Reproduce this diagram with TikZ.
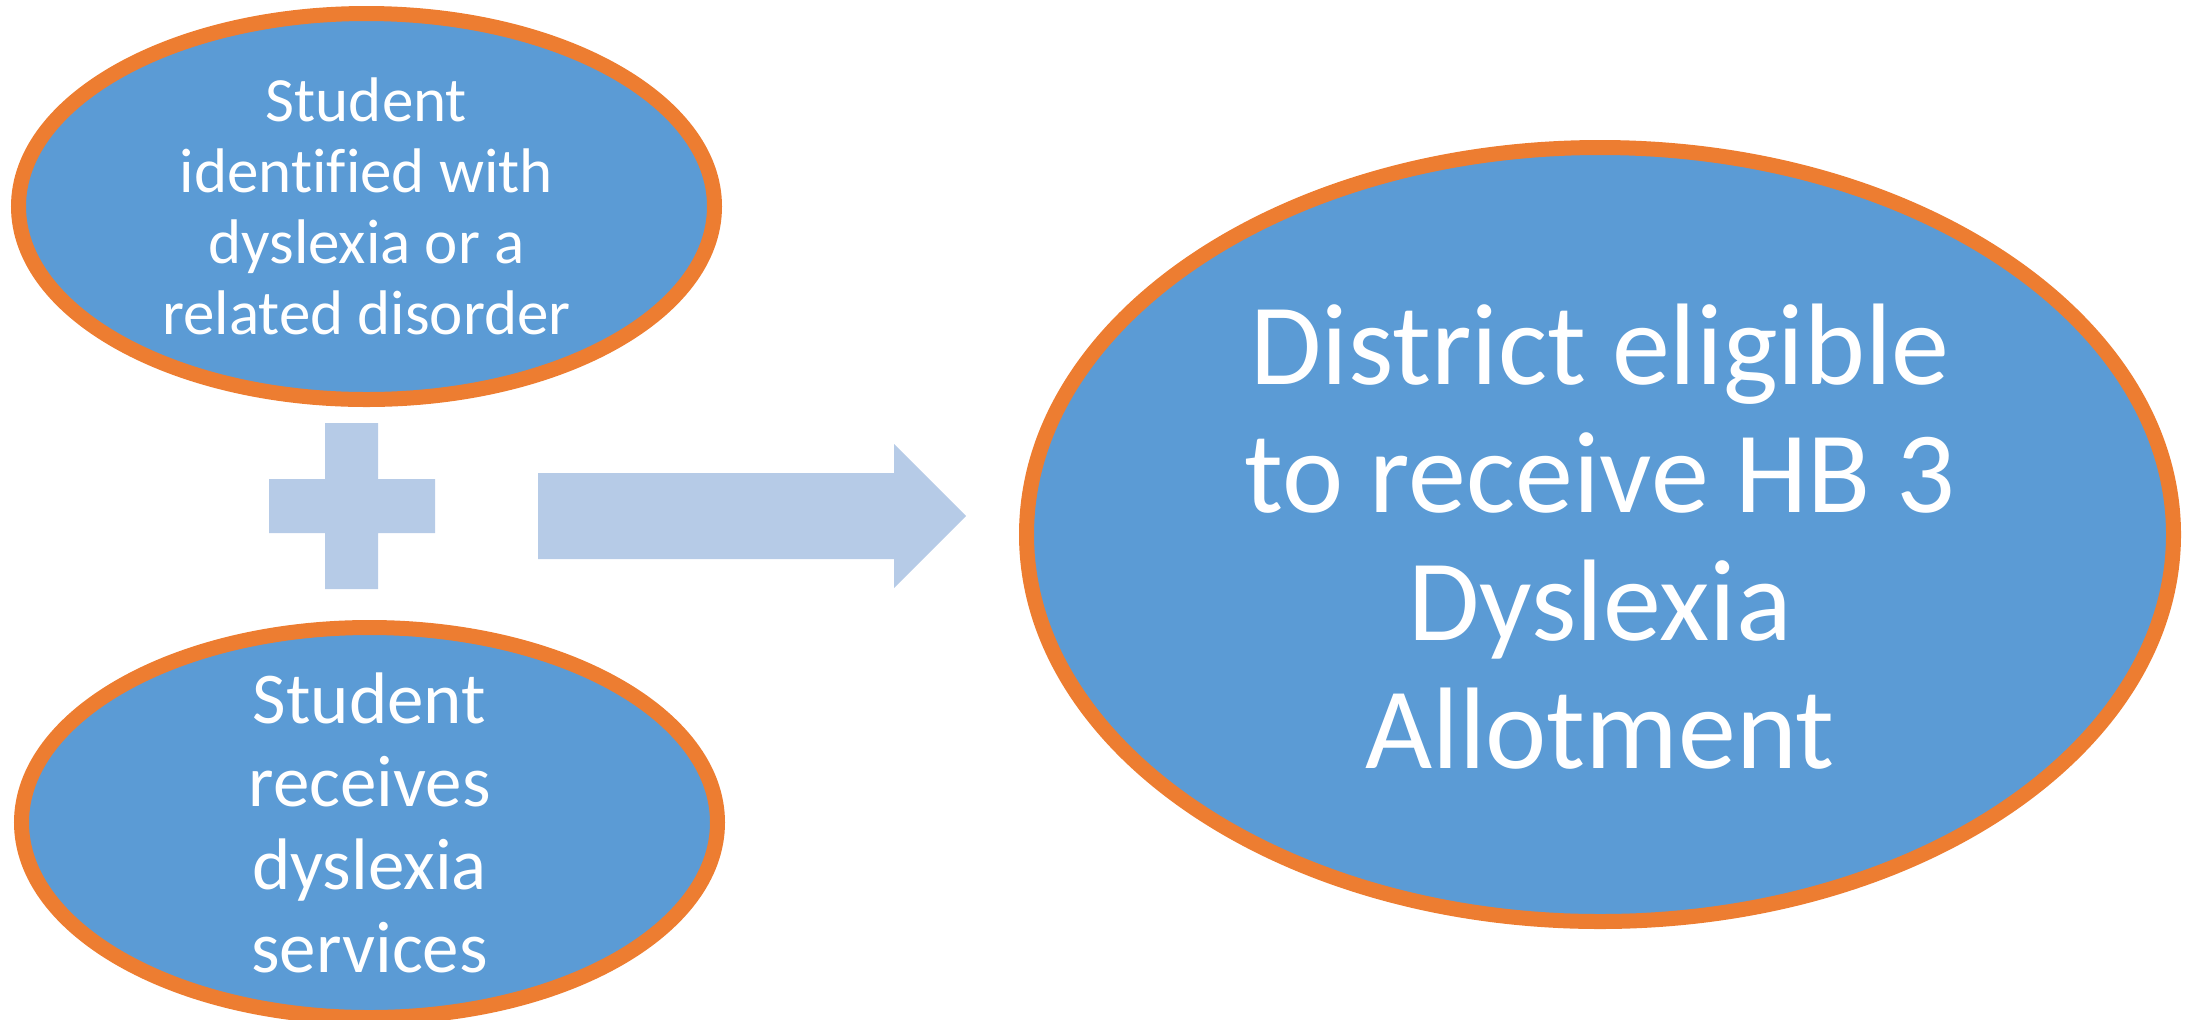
\documentclass[tikz,border=0pt]{standalone}
\usepackage{fontspec}
\setmainfont{Carlito}[Ligatures = NoCommon]
\usetikzlibrary{shapes.geometric}

\definecolor{bubbleblue}{HTML}{5B9BD5}
\definecolor{rimorange}{HTML}{ED7D31}
\definecolor{paleblue}{HTML}{B6CBE7}

\begin{document}
\begin{tikzpicture}[
	x = 0.5pt, y = -0.5pt, % one unit per pixel, y downwards
	line join = miter
	]
	
	\tikzstyle{bubble}=[
	ellipse,
	draw = rimorange,
	line width = 7.5pt,
	fill = bubbleblue,
	inner sep = 0pt
	]
	\tikzstyle{words}=[
	text = white,
	align = center,
	inner sep = 0pt
	]
	\tikzstyle{block}=[
	fill = paleblue
	]
	
	\useasboundingbox (0,0) rectangle (2198,1019);
	
	% the two conditions
	\node[bubble, minimum width = 348pt, minimum height = 193pt] (ident) at (366.5,206.5) {};
	\node[words, font = \fontsize{31.5}{35.5}\selectfont] (identtxt) at (ident) {Student\\identified with\\dyslexia or a\\related disorder};
	
	\node[bubble, minimum width = 348pt, minimum height = 195pt] (serv) at (369.5,822.5) {};
	\node[words, font = \fontsize{36.5}{41.5}\selectfont] (servtxt) at (serv) {Student\\receives\\dyslexia\\services};
	
	% result
	\node[bubble, minimum width = 573.5pt, minimum height = 387pt] (dist) at (1600,534.5) {};
	\node[words, font = \fontsize{58}{64}\selectfont] (disttxt) at ([yshift=-1pt]dist.center) {District eligible\\to receive HB 3\\Dyslexia\\Allotment};
	
	% plus sign
	\fill[block] (269,479) -- (325,479) -- (325,423) -- (378,423) -- (378,479) -- (435,479)
		-- (435,533) -- (378,533) -- (378,589) -- (325,589) -- (325,533) -- (269,533) -- cycle;
	
	% big arrow
	\fill[block] (538,473) -- (894,473) -- (894,444) -- (966,516) -- (894,588) -- (894,559)
		-- (538,559) -- cycle;
	
\end{tikzpicture}
\end{document}
